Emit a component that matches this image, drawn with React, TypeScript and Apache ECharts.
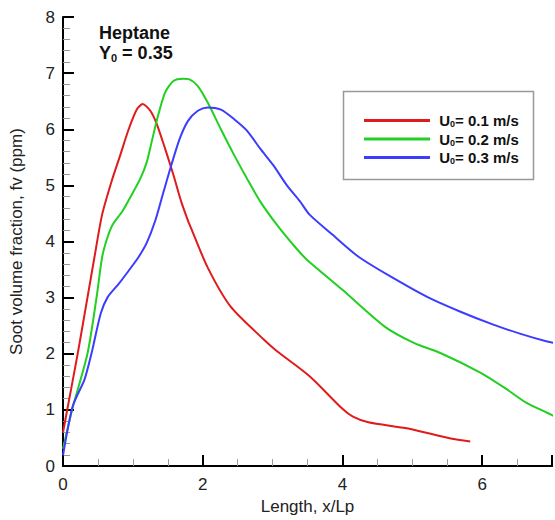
import React, { useEffect, useRef } from "react";
import * as echarts from "echarts";

const redX = [0, 0.06, 0.21, 0.35, 0.45, 0.56, 0.71, 0.82, 0.94, 1.06, 1.14, 1.25, 1.34, 1.46, 1.58, 1.69, 1.79, 1.83, 2.07, 2.4, 2.87, 3.06, 3.53, 4.0, 4.15, 4.37, 4.94, 5.55, 5.83];
const redY = [0.6, 1.0, 2.0, 3.0, 3.72, 4.48, 5.13, 5.54, 6.0, 6.36, 6.45, 6.33, 6.1, 5.66, 5.19, 4.72, 4.37, 4.25, 3.54, 2.84, 2.26, 2.05, 1.6, 1.02, 0.88, 0.78, 0.67, 0.49, 0.44];

const greenX = [0, 0.13, 0.35, 0.48, 0.56, 0.63, 0.71, 0.85, 0.96, 1.11, 1.2, 1.27, 1.36, 1.46, 1.58, 1.72, 1.81, 1.93, 2.07, 2.26, 2.45, 2.63, 2.82, 3.06, 3.29, 3.48, 4.0, 4.61, 5.03, 5.41, 5.98, 6.35, 6.63, 6.93, 7.1];
const greenY = [0.31, 1.0, 2.0, 3.0, 3.72, 4.05, 4.3, 4.54, 4.78, 5.13, 5.42, 5.78, 6.24, 6.65, 6.86, 6.9, 6.89, 6.77, 6.48, 6.0, 5.54, 5.13, 4.72, 4.3, 3.95, 3.69, 3.14, 2.48, 2.19, 2.01, 1.66, 1.37, 1.13, 0.95, 0.85];

const blueX = [0, 0.14, 0.31, 0.42, 0.54, 0.64, 0.8, 0.94, 1.08, 1.2, 1.32, 1.44, 1.55, 1.67, 1.79, 1.93, 2.07, 2.26, 2.45, 2.63, 2.82, 3.01, 3.2, 3.39, 3.53, 3.86, 4.23, 4.7, 5.22, 5.69, 6.16, 6.54, 6.93, 7.1];
const blueY = [0.19, 1.07, 1.55, 2.07, 2.72, 3.01, 3.25, 3.48, 3.72, 3.98, 4.37, 4.89, 5.36, 5.83, 6.15, 6.33, 6.39, 6.35, 6.18, 5.98, 5.66, 5.36, 5.01, 4.72, 4.48, 4.12, 3.73, 3.37, 3.01, 2.75, 2.52, 2.36, 2.22, 2.18];

const seriesNames = ["U0 = 0.1 m/s", "U0 = 0.2 m/s", "U0 = 0.3 m/s"];
const legendValues = ["0.1", "0.2", "0.3"];
const colors = ["#e01b1b", "#22d022", "#3c3cff"];

const xTicks = [0, 2, 4, 6];
const yTicks = [0, 1, 2, 3, 4, 5, 6, 7, 8];

const zip = (xs: number[], ys: number[]) => xs.map((x, i) => [x, ys[i]]);

export default function App() {
  const ref = useRef<HTMLDivElement>(null);
  useEffect(() => {
    if (!ref.current) return;
    const chart = echarts.init(ref.current, undefined, { renderer: "svg" });
    const font = "Liberation Sans, Arial, sans-serif";
    const datas = [zip(redX, redY), zip(greenX, greenY), zip(blueX, blueY)];
    chart.setOption({
      animation: false,
      textStyle: { fontFamily: font },
      grid: { left: 63, right: -5, top: 17, bottom: 49, containLabel: false },
      xAxis: [
        {
          type: "value",
          min: 0,
          max: 7,
          interval: 2,
          axisLine: { show: true, onZero: false, lineStyle: { color: "#000", width: 2 } },
          axisTick: { show: true, inside: true, length: 11, lineStyle: { color: "#000", width: 2 } },
          minorTick: { show: true, splitNumber: 4, length: 7, lineStyle: { color: "#999", width: 1 } },
          splitLine: { show: false },
          axisLabel: {
            fontSize: 17,
            color: "#222",
            margin: 10,
            formatter: (v: number) => (xTicks.includes(v) ? String(v) : ""),
          },
          name: "Length, x/Lp",
          nameLocation: "middle",
          nameGap: 29,
          nameTextStyle: { fontSize: 17, color: "#222" },
        },
        {
          type: "value",
          position: "top",
          min: 0,
          max: 7,
          axisLine: { show: true, lineStyle: { color: "#000", width: 2 } },
          axisTick: { show: false },
          axisLabel: { show: false },
          splitLine: { show: false },
        },
      ],
      yAxis: [
        {
          type: "value",
          min: 0,
          max: 8,
          interval: 1,
          axisLine: { show: true, onZero: false, lineStyle: { color: "#000", width: 2 } },
          axisTick: { show: true, inside: true, length: 11, lineStyle: { color: "#000", width: 2 } },
          minorTick: { show: true, splitNumber: 5, length: 7, lineStyle: { color: "#999", width: 1 } },
          splitLine: { show: false },
          axisLabel: {
            fontSize: 17,
            color: "#222",
            margin: 8,
            formatter: (v: number) => (yTicks.includes(v) ? String(v) : ""),
          },
          name: "Soot volume fraction, fv (ppm)",
          nameLocation: "middle",
          nameGap: 38,
          nameTextStyle: { fontSize: 17, color: "#222" },
        },
      ],
      legend: {
        show: true,
        z: 20,
        orient: "vertical",
        left: 359,
        top: 108,
        itemWidth: 66,
        itemHeight: 3,
        itemGap: 3,
        icon: "rect",
        data: seriesNames,
        textStyle: {
          fontSize: 15,
          fontWeight: "bold",
          color: "#111",
          rich: {
            b: { fontSize: 15, fontWeight: "bold", color: "#111" },
            s: { fontSize: 9, fontWeight: "bold", color: "#111", verticalAlign: "bottom", padding: [7, 0, 0, 0] },
          },
        },
        formatter: (name: string) => {
          const i = seriesNames.indexOf(name);
          return `{b| U}{s|0}{b|= ${legendValues[i]} m/s}`;
        },
      },
      graphic: [
        {
          type: "rect",
          shape: { x: 343.5, y: 91.5, width: 190, height: 88 },
          style: { fill: "#fff", stroke: "#999", lineWidth: 1.5 },
          z: 1,
        },
        {
          type: "text",
          left: 99,
          top: 23,
          z: 10,
          style: {
            text: "{h|Heptane}\n{h|Y}{s|0}{h| = 0.35}",
            fontFamily: font,
            lineHeight: 20,
            rich: {
              h: { fontSize: 18, fontWeight: "bold", fill: "#111", fontFamily: font, lineHeight: 20 },
              s: { fontSize: 11, fontWeight: "bold", fill: "#111", fontFamily: font, verticalAlign: "bottom", lineHeight: 20, padding: [7, 0, 0, 0] },
            },
          },
        },
      ],
      series: datas.map((d, i) => ({
        type: "line",
        name: seriesNames[i],
        data: d,
        smooth: 0.25,
        showSymbol: false,
        symbol: "none",
        clip: true,
        lineStyle: { color: colors[i], width: 2 },
        itemStyle: { color: colors[i] },
      })),
    });
    return () => chart.dispose();
  }, []);
  return <div ref={ref} style={{ position: "absolute", left: 0, top: 0, width: 555, height: 520 }} />;
}
